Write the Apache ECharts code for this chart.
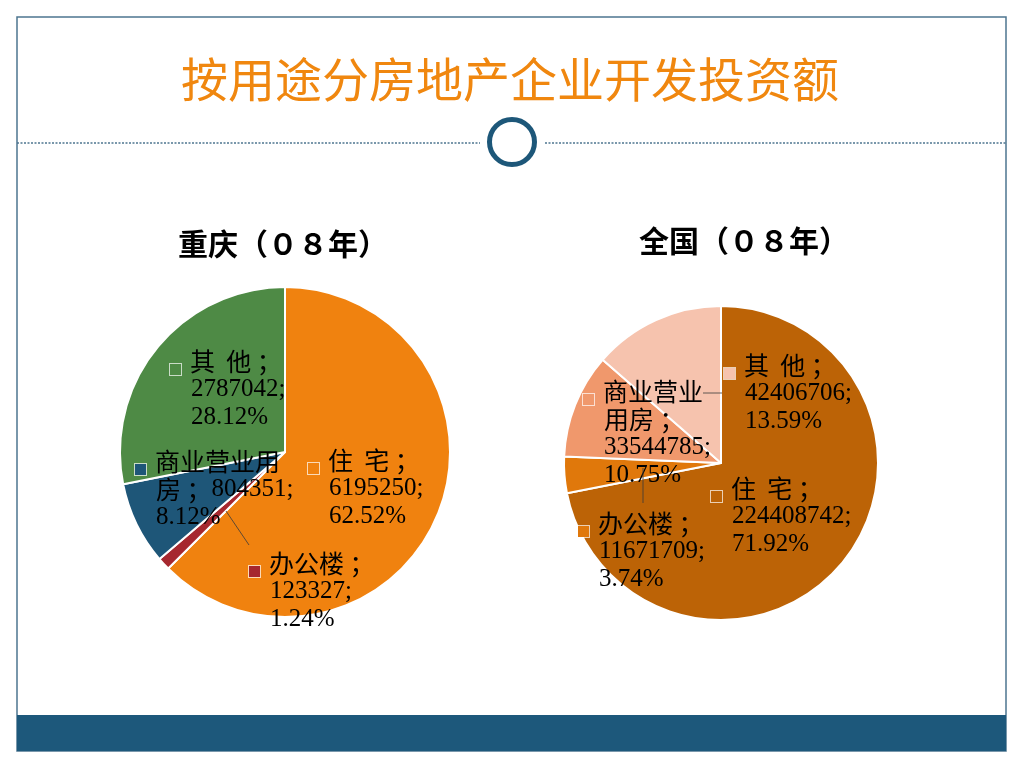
<!DOCTYPE html>
<html lang="zh">
    <head>
        <meta charset="UTF-8" />
        <title>按用途分房地产企业开发投资额</title>
        <script src="https://cdn.jsdelivr.net/npm/echarts@6/dist/echarts.min.js"></script>
        <style>
            html, body { margin: 0; padding: 0; background: #fff; }
            #chart { width: 1024px; height: 768px; }
        </style>
    </head>

    <body>
        <div id="chart"></div>
        <script>
            //chart data
            const categories = ["住宅", "办公楼", "商业营业用房", "其他"];
            const cqValues = [6195250, 123327, 804351, 2787042];
            const cnValues = [224408742, 11671709, 33544785, 42406706];
            const cqColors = ["#f0820f", "#a6282f", "#1e5678", "#4e8a45"];
            const cnColors = ["#bc6306", "#e0780b", "#f0986c", "#f6c3ae"];

            //label name text as wrapped on the slide ("|" = line break)
            const cqLabelNames = ["住  宅", "办公楼", "商业营业用|房", "其  他"];
            const cnLabelNames = ["住  宅", "办公楼", "商业营业|用房", "其  他"];
            const cqValueInline = [false, false, true, false];
            const cnValueInline = [false, false, false, false];

            //label block offsets from pie center (top-left of label)
            const cqLabelOffsets = [[23, -6], [-36, 97], [-150, -5], [-115, -105]];
            const cnLabelOffsets = [[-10, 11], [-143, 46], [-138, -86], [3, -112]];

            const cqCenter = [285, 452];
            const cnCenter = [721, 463];

            const cjk = "'Noto Sans CJK SC', sans-serif";
            const serif = "'Liberation Serif', 'Times New Roman', serif";

            //build rich label text for one slice
            function labelText(names, inline, idx, value, percent) {
                const nameLines = names[idx].split("|");
                const lines = nameLines.map(n => "{c|" + n + "}");
                const last = lines.length - 1;
                lines[last] = "{c|" + nameLines[last] + " ；}";
                const val = "{d|" + value + ";}";
                if (inline[idx]) {
                    lines[last] += val;
                } else {
                    lines.push(val);
                }
                lines.push("{d|" + percent.toFixed(2) + "%}");
                return lines.map((l, i) => (i === 0 ? "{m|}{g|}" : "{s|}") + l).join("\n");
            }

            function richFor(color) {
                return {
                    m: {
                        width: 11,
                        height: 11,
                        backgroundColor: color,
                        borderColor: "rgba(255,255,255,0.7)",
                        borderWidth: 1,
                        verticalAlign: "bottom",
                    },
                    g: { width: 9, height: 10 },
                    s: { width: 21, height: 10 },
                    c: { fontFamily: cjk, fontSize: 25, lineHeight: 28, color: "#000" },
                    d: { fontFamily: serif, fontSize: 25, lineHeight: 28, color: "#000" },
                };
            }

            function pieData(values, colors) {
                return values.map((v, i) => ({
                    name: categories[i],
                    value: v,
                    itemStyle: { color: colors[i] },
                    label: { rich: richFor(colors[i]) },
                }));
            }

            function pieSeries(values, colors, names, inline, offsets, center, radius) {
                return {
                    type: "pie",
                    center: center,
                    radius: radius,
                    startAngle: 90,
                    clockwise: true,
                    percentPrecision: 2,
                    silent: true,
                    animation: false,
                    itemStyle: { borderColor: "#fff", borderWidth: 2 },
                    label: {
                        show: true,
                        position: "inside",
                        formatter: p => labelText(names, inline, p.dataIndex, p.value, p.percent),
                    },
                    labelLine: { show: false },
                    labelLayout: function(params) {
                        const off = offsets[params.dataIndex];
                        return {
                            x: center[0] + off[0],
                            y: center[1] + off[1],
                            align: "left",
                            verticalAlign: "top",
                        };
                    },
                    data: pieData(values, colors),
                };
            }

            //leader lines drawn by the slide, relative to pie centers
            function leader(center, pts) {
                return {
                    type: "polyline",
                    silent: true,
                    z: 100,
                    shape: { points: pts.map(p => [center[0] + p[0], center[1] + p[1]]) },
                    style: { stroke: "#3a3a3a", lineWidth: 0.8, fill: null },
                };
            }

            const chart = echarts.init(document.getElementById("chart"));
            chart.setOption({
                backgroundColor: "#fff",
                animation: false,
                title: [
                    {
                        text: "按用途分房地产企业开发投资额",
                        left: 510,
                        top: 56,
                        padding: 0,
                        textAlign: "center",
                        textStyle: { fontFamily: cjk, fontSize: 47, fontWeight: "normal", color: "#f0870f" },
                    },
                    {
                        text: "重庆（０８年）",
                        left: 283,
                        top: 229,
                        padding: 0,
                        textAlign: "center",
                        textStyle: { fontFamily: cjk, fontSize: 30, fontWeight: "bold", color: "#000" },
                    },
                    {
                        text: "全国（０８年）",
                        left: 744,
                        top: 226,
                        padding: 0,
                        textAlign: "center",
                        textStyle: { fontFamily: cjk, fontSize: 30, fontWeight: "bold", color: "#000" },
                    },
                ],
                graphic: [
                    {
                        type: "rect",
                        silent: true,
                        shape: { x: 17, y: 17, width: 989, height: 734 },
                        style: { fill: null, stroke: "#4d7690", lineWidth: 1.5 },
                    },
                    {
                        type: "rect",
                        silent: true,
                        shape: { x: 17, y: 715, width: 989, height: 36 },
                        style: { fill: "#1d587b" },
                    },
                    {
                        type: "line",
                        silent: true,
                        shape: { x1: 17, y1: 143, x2: 480, y2: 143 },
                        style: { stroke: "#4d7690", lineWidth: 1.5, lineDash: [2, 1.5] },
                    },
                    {
                        type: "line",
                        silent: true,
                        shape: { x1: 545, y1: 143, x2: 1006, y2: 143 },
                        style: { stroke: "#4d7690", lineWidth: 1.5, lineDash: [2, 1.5] },
                    },
                    {
                        type: "circle",
                        silent: true,
                        shape: { cx: 512, cy: 142, r: 22.5 },
                        style: { fill: "#fff", stroke: "#1d5779", lineWidth: 5 },
                    },
                    leader(cqCenter, [[-59, 59], [-36, 93]]),
                    leader(cnCenter, [[-18, -70], [1, -70]]),
                    leader(cnCenter, [[-78, 5], [-78, 40]]),
                ],
                series: [
                    pieSeries(cqValues, cqColors, cqLabelNames, cqValueInline, cqLabelOffsets, cqCenter, 165),
                    pieSeries(cnValues, cnColors, cnLabelNames, cnValueInline, cnLabelOffsets, cnCenter, 157),
                ],
            });
        </script>
    </body>
</html>
